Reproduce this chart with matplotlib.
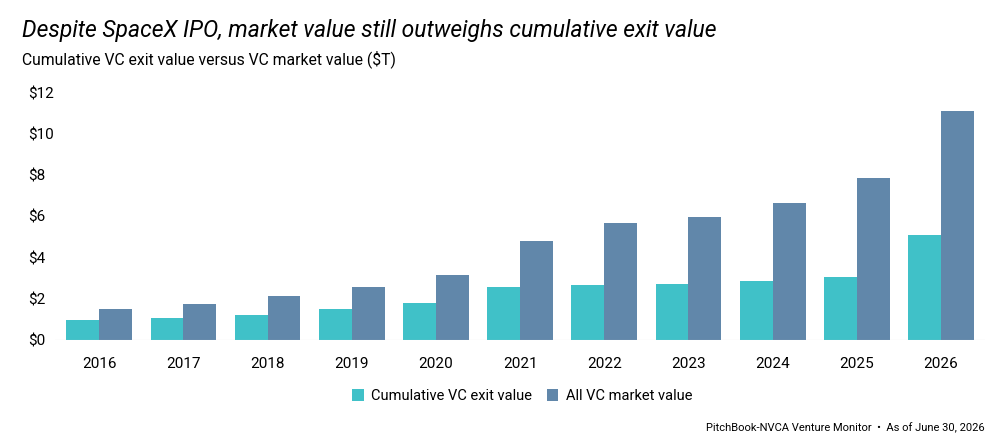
import matplotlib
matplotlib.use("Agg")
import matplotlib.pyplot as plt
import numpy as np

years = ["2016","2017","2018","2019","2020","2021","2022","2023","2024","2025","2026"]
exit_value = [0.97,1.07,1.21,1.50,1.80,2.58,2.67,2.72,2.87,3.06,5.10]
market_value = [1.50,1.75,2.14,2.58,3.16,4.81,5.69,5.98,6.66,7.87,11.13]
yticks = [0,2,4,6,8,10,12]
ytick_labels = ["$0","$2","$4","$6","$8","$10","$12"]

plt.rcParams['font.family'] = ['Roboto', 'DejaVu Sans']
fig = plt.figure(figsize=(10.08,4.4), dpi=100)
ax = fig.add_axes([0.055,0.227,0.922,0.562])
x = np.arange(len(years))
w = 0.39
ax.bar(x-w/2, exit_value, w, color="#40C1C8", label="Cumulative VC exit value")
ax.bar(x+w/2, market_value, w, color="#6187AA", label="All VC market value")
ax.set_xlim(-0.52,10.52)
ax.set_ylim(0,12)
ax.set_yticks(yticks)
ax.set_yticklabels(ytick_labels, ha='left')
ax.set_xticks(x)
ax.set_xticklabels(years)
ax.tick_params(axis='y', length=0, pad=20, labelsize=11)
ax.tick_params(axis='x', length=0, pad=12, labelsize=11)
for s in ax.spines.values():
    s.set_visible(False)
ax.axhline(0, color="#cccccc", lw=0.8)
fig.text(0.022,0.915,"Despite SpaceX IPO, market value still outweighs cumulative exit value",
         fontsize=16.5, style='italic', va='baseline')
fig.text(0.022,0.855,"Cumulative VC exit value versus VC market value ($T)", fontsize=11.3, va='baseline')
fig.legend(loc='center', bbox_to_anchor=(0.518,0.10), ncol=2, frameon=False, fontsize=10.5,
           handlelength=0.8, handleheight=0.8, columnspacing=1.0, handletextpad=0.5)
fig.text(0.977,0.02,"PitchBook-NVCA Venture Monitor  •  As of June 30, 2026", fontsize=8, ha='right')
fig.savefig("out.png", dpi=100)
